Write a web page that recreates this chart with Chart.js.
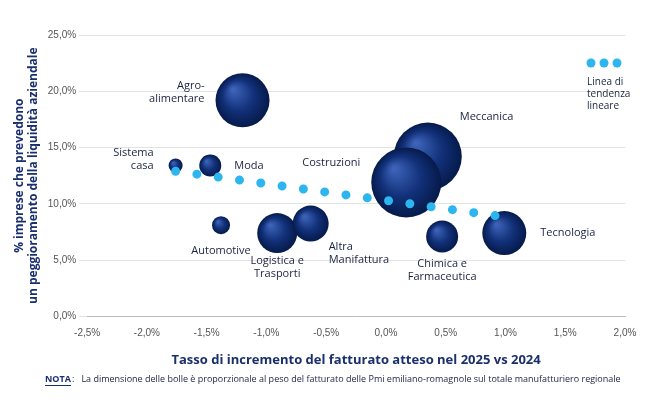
<!DOCTYPE html>
<html><head><meta charset="utf-8">
<script src="https://cdn.jsdelivr.net/npm/chart.js@4"></script>
<style>body{margin:0;background:#fff}#wrap{width:660px;height:400px}</style>
</head><body><div id="wrap"><canvas id="c"></canvas></div>
<script>
const sectors = ["Agro-\nalimentare", "Sistema\ncasa", "Moda", "Meccanica", "Costruzioni", "Automotive", "Logistica e\nTrasporti", "Altra\nManifattura", "Chimica e\nFarmaceutica", "Tecnologia"];
const growth = [-1.20, -1.76, -1.47, 0.35, 0.17, -1.38, -0.91, -0.63, 0.47, 0.99];
const liquidity = [19.2, 13.4, 13.4, 14.2, 11.9, 8.1, 7.4, 8.25, 7.1, 7.4];
const weight = [27, 7, 11, 34, 35, 9, 20, 18, 16, 22];
const trendX = [-1.76, 0.95];
const trendY = [12.9, 8.9];
const xTicks = [-2.5, -2.0, -1.5, -1.0, -0.5, 0, 0.5, 1.0, 1.5, 2.0];

// label offsets (px) and alignment
const labelPos = [[-38, -8, "right"], [-22, -6, "right"], [24, 0, "left"], [32, -40, "left"], [-46, -20, "right"], [0, 26, "center"], [0, 34, "center"], [18, 30, "left"], [0, 34, "center"], [36, 0, "left"]];

const fmt = v => v.toFixed(1).replace(".", ",") + "%";

const labels = {
  id: "labels",
  afterDatasetsDraw(chart) {
    const ctx = chart.ctx;
    const meta = chart.getDatasetMeta(1);
    ctx.save();
    ctx.fillStyle = "#1a2340";
    ctx.font = "11px 'Open Sans', Arial";
    ctx.textBaseline = "middle";
    meta.data.forEach((el, i) => {
      const [dx, dy, al] = labelPos[i];
      ctx.textAlign = al;
      const lines = sectors[i].split("\n");
      lines.forEach((l, k) => ctx.fillText(l, el.x + dx, el.y + dy + (k - (lines.length - 1) / 2) * 13));
    });
    // trend legend
    const a = chart.chartArea;
    ctx.fillStyle = "#2cb5ef";
    [0, 1, 2].forEach(k => { ctx.beginPath(); ctx.arc(a.right - 34 + k * 13, 63, 4.5, 0, Math.PI * 2); ctx.fill(); });
    ctx.fillStyle = "#1a2340";
    ctx.font = "10px 'Open Sans', Arial";
    ctx.textAlign = "left";
    ["Linea di", "tendenza", "lineare"].forEach((l, k) => ctx.fillText(l, a.right - 38, 82 + k * 12));
    // note
    ctx.font = "bold 9px 'Open Sans', Arial";
    ctx.fillStyle = "#1a2f6e";
    ctx.fillText("NOTA", 45, 379);
    ctx.fillRect(45, 385, 26, 1);
    ctx.font = "9px 'Open Sans', Arial";
    ctx.fillStyle = "#1a2340";
    ctx.fillText(":   La dimensione delle bolle è proporzionale al peso del fatturato delle Pmi emiliano-romagnole sul totale manufatturiero regionale", 72, 379);
    ctx.restore();
  }
};

function bubbleFill(c) {
  const ch = c.chart;
  if (!ch.chartArea || !c.raw || !ch.scales.x) return "#0b2a6b";
  const x = ch.scales.x.getPixelForValue(c.raw.x);
  const y = ch.scales.y.getPixelForValue(c.raw.y);
  const r = c.raw.r;
  const g = ch.ctx.createRadialGradient(x - r * 0.35, y - r * 0.4, r * 0.05, x, y, r);
  g.addColorStop(0, "#3d62b8");
  g.addColorStop(0.55, "#12317a");
  g.addColorStop(1, "#061a4a");
  return g;
}

new Chart(document.getElementById("c"), {
  type: "bubble",
  data: {
    datasets: [{
      type: "line",
      data: trendX.map((x, i) => ({ x, y: trendY[i] })),
      borderColor: "#2cb5ef",
      borderWidth: 9,
      borderCapStyle: "round",
      borderDash: [0, 21.5],
      pointRadius: 0,
      order: 0
    }, {
      data: growth.map((x, i) => ({ x, y: liquidity[i], r: weight[i] })),
      backgroundColor: bubbleFill,
      borderWidth: 0,
      order: 1
    }]
  },
  options: {
    responsive: true, maintainAspectRatio: false, animation: false,
    layout: { padding: { top: 0, right: 16, left: 8, bottom: 28 } },
    plugins: { legend: { display: false }, tooltip: { enabled: false } },
    scales: {
      x: {
        type: "linear", min: -2.5, max: 2.0,
        afterBuildTicks: s => { s.ticks = xTicks.map(v => ({ value: v })); },
        grid: { display: false },
        border: { color: "#bbb" },
        ticks: { callback: fmt, color: "#555", font: { size: 10 } },
        title: { display: true, text: "Tasso di incremento del fatturato atteso nel 2025 vs 2024", color: "#1a2f6e", font: { size: 13, weight: "bold", family: "'Open Sans', Arial" }, padding: { top: 10 } }
      },
      y: {
        min: 0, max: 25,
        grid: { color: "#e3e3e3" },
        border: { display: false },
        ticks: { stepSize: 5, callback: fmt, color: "#555", font: { size: 10 } },
        title: { display: true, text: ["% imprese che prevedono", "un peggioramento della liquidità aziendale"], color: "#1a2f6e", font: { size: 12, weight: "bold", family: "'Open Sans', Arial" } }
      }
    }
  },
  plugins: [labels]
});
</script></body></html>
